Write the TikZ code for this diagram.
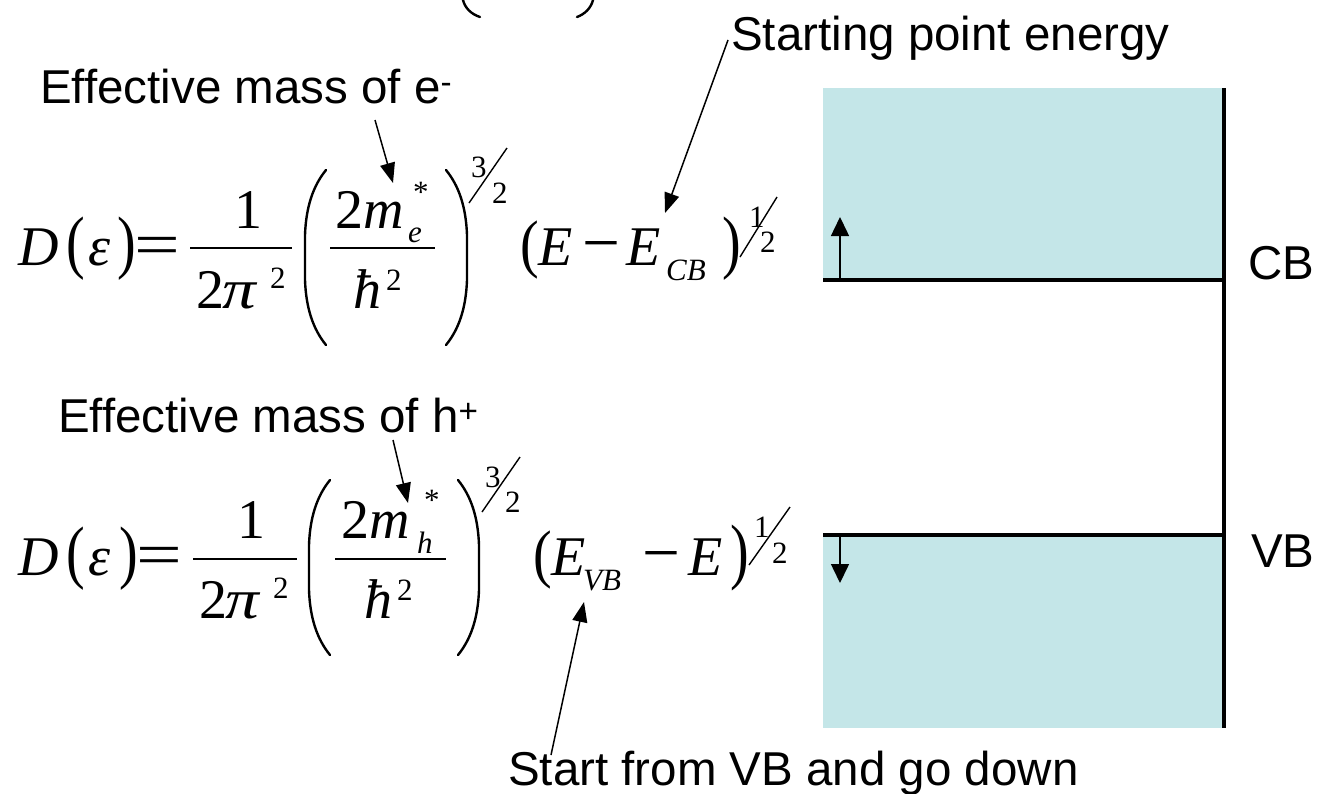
\documentclass[tikz,border=0pt]{standalone}
\usepackage{fontspec}
\usepackage{graphicx}
\setmainfont{Liberation Sans}
\newfontfamily\tnr{Liberation Serif}
\usetikzlibrary{arrows.meta}
\definecolor{bandblue}{RGB}{196,230,232}
\newcommand\LBL{\fontsize{47.5}{56}\selectfont}
\newcommand\BIGF{\fontsize{56}{64}\selectfont}
\newcommand\SMLF{\fontsize{31}{36}\selectfont}
\newcommand\tallp[2]{\scalebox{1}[#1]{#2}}
\tikzset{
  lbl/.style={inner sep=0pt, anchor=base west, font=\LBL},
  eqb/.style={inner sep=0pt, anchor=base west, font=\tnr\BIGF},
  eqi/.style={inner sep=0pt, anchor=base west, font=\tnr\itshape\BIGF},
  eqs/.style={inner sep=0pt, anchor=base west, font=\tnr\SMLF},
  eqsi/.style={inner sep=0pt, anchor=base west, font=\tnr\itshape\SMLF},
  ptr/.style={-{Triangle[length=20pt,width=15pt]}, line width=1.5pt},
  bandarrow/.style={-{Triangle[length=19pt,width=18pt]}, line width=1.5pt},
  bandline/.style={line width=4.5pt},
  bandfill/.style={fill=bandblue, draw=none},
  bigp/.style={line width=2.4pt, line cap=round},
  fbar/.style={line width=2.5pt},
  slash/.style={line width=1.4pt}
}
\begin{document}
\begin{tikzpicture}[x=1pt,y=-1pt]
\useasboundingbox (0,0) rectangle (1330,793);

% fragments of the previous formula at the top edge
\draw[bigp] (463,0) .. controls (465,8) and (471,14) .. (480,17);
\draw[bigp] (593,0) .. controls (591,8) and (585,14) .. (577,17);

% ---------- band diagram ----------
\fill[bandfill] (823,88) rectangle (1224,280);
\fill[bandfill] (823,535) rectangle (1224,728);
\draw[bandline] (823,280) -- (1224,280);
\draw[bandline] (823,535) -- (1224,535);
\draw[bandline] (1224,88) -- (1224,728);
\coordinate (cbfoot) at (840,280);
\coordinate (cbtip) at (840,217);
\coordinate (vbfoot) at (840,535);
\coordinate (vbtip) at (840,583);
\draw[bandarrow] (cbfoot) -- (cbtip);
\draw[bandarrow] (vbfoot) -- (vbtip);
\node[lbl] (cb) at (1248,279) {CB};
\node[lbl] (vb) at (1251,567) {VB};

% ---------- labels ----------
\node[lbl] (spe) at (731,50) {Starting point energy};
\node[lbl] (eme) at (40,103) {Effective mass of e\textsuperscript{-}};
\node[lbl] (emh) at (58,432) {Effective mass of h\textsuperscript{+}};
\node[lbl] (sfv) at (508,785) {Start from VB and go down};

% ---------- equation 1 ----------
\node[eqi] (D1) at (18,265) {D};
\node[eqb] (lp1) at (66,265) {\tallp{1.25}{(}};
\node[eqi] (eps1) at (88,265) {ε};
\node[eqb] (rp1) at (117,265) {\tallp{1.25}{)}};
\node[eqb] (eq1) at (134,265) {\scalebox{1.45}[1.1]{=}};
\node[eqb] (one1) at (234,228) {1};
\draw[fbar] (190,248) -- (292,248);
\node[eqb] (two1) at (196,308) {2};
\node[eqi] (pi1) at (222,308) {\scalebox{1.2}[1]{π}};
\node[eqs] (sq1) at (270,288) {2};
\draw[bigp] (326,170) .. controls (313,186) and (306,207) .. (305,235) -- (305,280) .. controls (306,308) and (313,329) .. (326,345);
\node[eqb] (tw1) at (335,228) {2};
\node[eqi] (m1) at (363,228) {m};
\node[eqs] (st1) at (413,202) {*};
\node[eqsi] (sub1) at (408,242) {e};
\draw[fbar] (330,248) -- (435,248);
\node[eqi] (hb1) at (353,308) {ħ};
\node[eqs] (hs1) at (386,290) {2};
\draw[bigp] (446,170) .. controls (459,186) and (466,207) .. (467,235) -- (467,280) .. controls (466,308) and (459,329) .. (446,345);
\node[eqs] (n31) at (471,177) {3};
\draw[slash] (469,203) -- (507,148);
\node[eqs] (d21) at (492,203) {2};
\node[eqb] (lq1) at (520,265) {\tallp{1.15}{(}};
\node[eqi] (E1) at (538,265) {E};
\node[eqb] (mn1) at (582,265) {\scalebox{1.2}[1.2]{−}};
\node[eqi] (E1b) at (626,265) {E};
\node[eqsi] (cbs1) at (666,280) {CB};
\node[eqb] (rq1) at (722,265) {\tallp{1.25}{)}};
\node[eqs] (n11) at (749,227) {1};
\draw[slash] (740,257) -- (777,197);
\node[eqs] (d12) at (760,252) {2};

% ---------- equation 2 ----------
\node[eqi] (D2) at (18,575) {D};
\node[eqb] (lp2) at (66,575) {\tallp{1.25}{(}};
\node[eqi] (eps2) at (88,575) {ε};
\node[eqb] (rp2) at (119,575) {\tallp{1.25}{)}};
\node[eqb] (eq2) at (136,575) {\scalebox{1.45}[1.1]{=}};
\node[eqb] (one2) at (237,538) {1};
\draw[fbar] (193,559) -- (297,559);
\node[eqb] (two2) at (199,618) {2};
\node[eqi] (pi2) at (225,618) {\scalebox{1.2}[1]{π}};
\node[eqs] (sq2) at (273,598) {2};
\draw[bigp] (330,480) .. controls (317,496) and (310,517) .. (309,545) -- (309,590) .. controls (310,618) and (317,639) .. (330,655);
\node[eqb] (tw2) at (341,538) {2};
\node[eqi] (m2) at (369,538) {m};
\node[eqs] (st2) at (424,510) {*};
\node[eqsi] (sub2) at (417,553) {h};
\draw[fbar] (335,559) -- (446,559);
\node[eqi] (hb2) at (364,618) {ħ};
\node[eqs] (hs2) at (397,600) {2};
\draw[bigp] (458,480) .. controls (471,496) and (478,517) .. (479,545) -- (479,590) .. controls (478,618) and (471,639) .. (458,655);
\node[eqs] (n32) at (485,487) {3};
\draw[slash] (482,512) -- (520,457);
\node[eqs] (d22) at (505,512) {2};
\node[eqb] (lq2) at (533,575) {\tallp{1.15}{(}};
\node[eqi] (E2) at (551,575) {E};
\node[eqsi] (vbs2) at (583,590) {VB};
\node[eqb] (mn2) at (642,575) {\scalebox{1.2}[1.2]{−}};
\node[eqi] (E2b) at (688,575) {E};
\node[eqb] (rq2) at (730,575) {\tallp{1.3}{)}};
\node[eqs] (n12) at (754,537) {1};
\draw[slash] (749,565) -- (790,507);
\node[eqs] (d22b) at (772,563) {2};

% ---------- pointers ----------
\coordinate (emeS) at (375,120);
\coordinate (emeT) at (393,183);
\coordinate (emhS) at (393,440);
\coordinate (emhT) at (408,503);
\coordinate (speS) at (728,40);
\coordinate (speT) at (665,213);
\coordinate (sfvS) at (551,755);
\coordinate (sfvT) at (584,602);
\draw[ptr] (emeS) -- (emeT);
\draw[ptr] (emhS) -- (emhT);
\draw[ptr] (speS) -- (speT);
\draw[ptr] (sfvS) -- (sfvT);
\end{tikzpicture}
\end{document}
